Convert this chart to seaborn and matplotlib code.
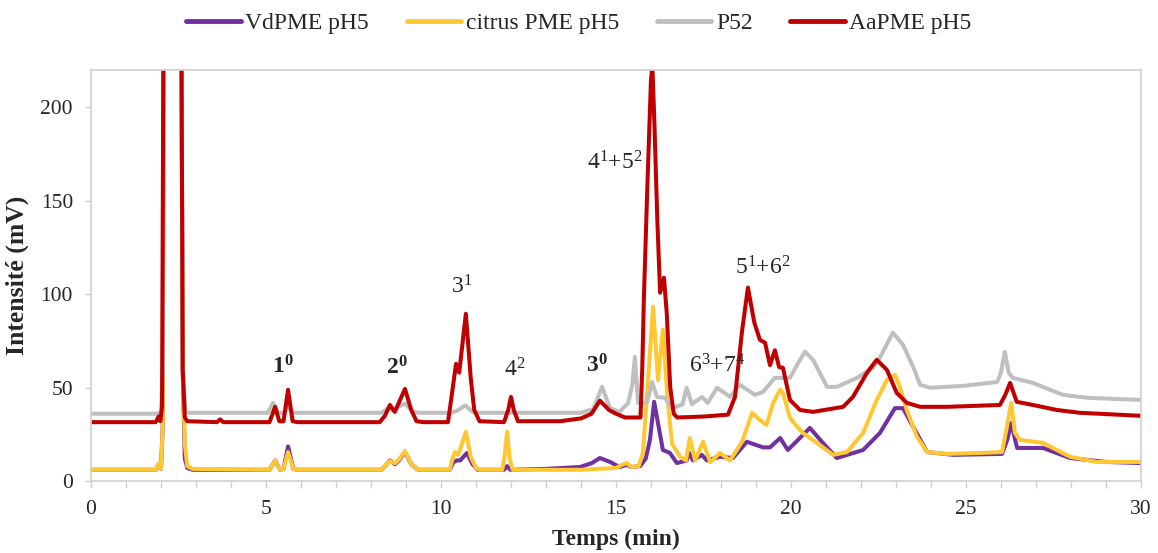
import pandas as pd
import seaborn as sns
import matplotlib.pyplot as plt

# temps (min) / intensité (mV)
vd_t = [0, 1.85, 1.93, 2.0, 2.05, 2.1, 2.55, 2.62, 2.68, 2.75, 2.9,
        5.1, 5.26, 5.4, 5.5, 5.63, 5.78, 5.9,
        8.3, 8.45, 8.55, 8.68, 8.8, 8.97, 9.15, 9.35,
        10.25, 10.35, 10.45, 10.55, 10.74, 10.9, 11.05,
        11.8, 11.89, 11.98,
        13.0, 13.97, 14.3, 14.54, 14.83, 15.1, 15.3, 15.45, 15.69, 15.85, 15.97,
        16.09, 16.2, 16.34, 16.54, 16.74, 17.02, 17.09, 17.2, 17.45, 17.6, 17.97,
        18.34, 18.74, 19.2, 19.4, 19.69, 19.91, 20.2, 20.54, 20.91, 21.31, 22.06,
        22.54, 22.97, 23.2, 23.49, 23.89, 24.63, 26.03, 26.18, 26.29, 26.46, 27.2,
        27.97, 29.0, 30]
vd_v = [6, 6, 8.5, 6.5, 30, 400, 400, 60, 12, 7, 6,
        6, 11, 6, 6.5, 18.5, 6.5, 6,
        6, 9, 11, 9, 11, 15.5, 9, 6,
        6, 10, 11, 11, 15, 9, 6,
        6, 8, 6,
        6.5, 7.5, 9.5, 12.3, 10.2, 7.5, 8.6, 7.5, 8, 12, 22,
        42.4, 31, 16.6, 15, 9.6, 11, 15, 11, 14, 11, 13,
        12.3, 21, 18, 18, 23, 16.6, 22, 28.4, 20.4, 12.3, 16.6,
        25.7, 39, 39, 29, 15.5, 14, 14.5, 22, 31, 17.7, 17.7,
        12.3, 10.2, 9.6]

citrus_t = [0, 1.85, 1.93, 2.0, 2.05, 2.1, 2.55, 2.62, 2.68, 2.75, 2.9,
            5.1, 5.26, 5.4, 5.5, 5.63, 5.78, 5.9,
            8.3, 8.45, 8.55, 8.68, 8.8, 8.97, 9.15, 9.35,
            10.25, 10.33, 10.4, 10.49, 10.6, 10.71, 10.85, 11.0, 11.1,
            11.75, 11.82, 11.89, 11.96, 12.05,
            13.0, 14.0, 14.5, 15.0, 15.15, 15.3, 15.45, 15.65, 15.77, 15.89, 16.06,
            16.2, 16.34, 16.46, 16.6, 16.83, 17.0, 17.11, 17.26, 17.49, 17.69, 17.97,
            18.26, 18.6, 18.89, 19.11, 19.3, 19.49, 19.69, 19.77, 19.97, 20.06, 20.34,
            20.74, 21.2, 21.6, 22.06, 22.45, 22.74, 22.97, 23.11, 23.31, 23.6, 23.89,
            24.45, 25.4, 26.03, 26.18, 26.29, 26.4, 26.54, 27.2, 27.97, 28.74, 30]
citrus_v = [6, 6, 9.5, 6.5, 30, 400, 400, 60, 20, 8, 6.5,
            6, 11, 6, 6.5, 15.5, 6.5, 6,
            6, 9, 10.7, 9.5, 11.5, 16, 9, 6,
            6, 12, 15.5, 14, 20, 26.3, 13, 7, 6,
            6, 14, 26.3, 12, 6,
            6, 6, 6.5, 7, 8.5, 9.6, 7.5, 8, 15, 47, 93.3,
            54, 81, 47, 20, 13, 11, 23, 11, 21, 10, 15,
            11, 21, 36.5, 32.7, 30, 41.8, 48.8, 47, 34, 31.6, 25.7,
            20.4, 14, 15.5, 25.7, 43.4, 54, 56.8, 50.4, 38, 23.6, 15.5,
            14.5, 15, 15.5, 30, 41.8, 25.7, 22, 20.4, 13, 10.2, 10.2]

p52_t = [0, 1.9, 2.0, 2.05, 2.1, 2.55, 2.62, 2.7, 2.8,
         5.05, 5.2, 5.35, 5.5, 5.63, 5.78,
         8.3, 8.5, 8.6, 8.97, 9.2, 9.4,
         10.3, 10.5, 10.69, 10.9, 11.1, 12.0,
         14.0, 14.17, 14.35, 14.6, 14.83, 15.1, 15.35, 15.47, 15.54, 15.63, 15.89,
         16.03, 16.17, 16.4, 16.6, 16.9, 17.02, 17.17, 17.26, 17.46, 17.62, 17.89,
         18.26, 18.54, 18.97, 19.2, 19.54, 19.97, 20.2, 20.4, 20.63, 21.03, 21.31,
         21.89, 22.34, 22.54, 22.91, 23.2, 23.49, 23.69, 23.97, 24.91, 25.89, 26.0,
         26.11, 26.22, 26.34, 26.91, 27.77, 28.5, 30]
p52_v = [36, 36, 37, 60, 400, 400, 60, 37, 36.5,
         36.5, 41.8, 36.5, 36.5, 40, 36.5,
         36.5, 39, 38, 41.5, 37, 36.5,
         36.5, 38, 40.5, 37, 36.5, 36.5,
         36.5, 37.5, 38.5, 50.4, 39, 37, 41.8, 52, 66.5, 41.8, 42,
         53, 45, 44.5, 39, 41, 49.9, 41, 42.4, 45, 41.8, 49.9,
         45, 51.5, 46.1, 47.7, 55.2, 55.2, 63, 69.2, 64.9, 50.4, 50.4,
         55.2, 60.6, 66, 79.4, 72.9, 61.1, 51.5, 49.9, 50.9, 53, 58,
         69.2, 58, 55.2, 52.5, 46.1, 44.5, 43.4]

aa_t = [0, 1.85, 1.93, 1.98, 2.03, 2.1, 2.55, 2.62, 2.68, 2.75, 3.6, 3.69, 3.78,
        5.1, 5.26, 5.38, 5.5, 5.63, 5.76, 5.9,
        8.25, 8.4, 8.54, 8.68, 8.97, 9.15, 9.3, 9.5,
        10.2, 10.3, 10.43, 10.52, 10.71, 10.85, 10.95, 11.1,
        11.8, 11.92, 12.0, 12.08, 12.2,
        13.4, 14.0, 14.3, 14.54, 14.8, 15.0, 15.26, 15.7, 15.75, 15.8, 15.9, 16.0,
        16.04, 16.1, 16.18, 16.26, 16.37, 16.45, 16.55, 16.65, 16.75, 17.5, 18.2,
        18.4, 18.6, 18.77, 18.95, 19.11, 19.26, 19.4, 19.54, 19.66, 19.77, 19.97,
        20.26, 20.63, 21.49, 21.77, 22.17, 22.45, 22.74, 23.02, 23.31, 23.69, 24.45,
        25.97, 26.12, 26.26, 26.45, 26.91, 27.6, 28.26, 30]
aa_v = [31.5, 31.5, 34.5, 32, 40, 400, 400, 60, 34, 32, 31.5, 33, 31.5,
        31.5, 39.7, 32, 32, 48.8, 32, 31.5,
        31.5, 35, 40.7, 37, 49.3, 38, 32, 31.5,
        31.5, 45, 62.7, 58, 89.5, 55, 38, 32,
        31.5, 38, 45, 38, 32,
        32, 33.5, 36, 43, 38, 36, 34, 34, 60, 100, 160, 215,
        222, 190, 140, 100.8, 108.8, 90, 50, 36, 34, 34.5, 35.5,
        45, 80, 103.5, 85, 75.6, 74, 62, 70, 61, 60.6, 43.4,
        38, 37, 39.7, 45, 57.9, 64.9, 59.5, 47.2, 41.8, 39.7, 39.7,
        40.7, 46, 52.5, 42.4, 40.7, 38, 36.5, 34.9]

series = ['VdPME pH5', 'citrus PME pH5', 'P52', 'AaPME pH5']
colors = ['#7030A0', '#FFC832', '#BFBFBF', '#C00000']

# peak labels: text, x, y
labels = [(r'$\mathbf{1^0}$', 5.49, 61),
          (r'$\mathbf{2^0}$', 8.74, 60.6),
          (r'$3^1$', 10.6, 104),
          (r'$4^2$', 12.11, 59.5),
          (r'$\mathbf{3^0}$', 14.46, 61.7),
          (r'$4^1$+$5^2$', 14.97, 170.5),
          (r'$6^3$+$7^4$', 17.89, 61.7),
          (r'$5^1$+$6^2$', 19.2, 114)]

df = pd.concat([
    pd.DataFrame({'t': vd_t, 'v': vd_v, 's': series[0]}),
    pd.DataFrame({'t': citrus_t, 'v': citrus_v, 's': series[1]}),
    pd.DataFrame({'t': p52_t, 'v': p52_v, 's': series[2]}),
    pd.DataFrame({'t': aa_t, 'v': aa_v, 's': series[3]}),
])

sns.set_style('white')
plt.rcParams['font.family'] = ['Liberation Serif', 'DejaVu Serif']
plt.rcParams['mathtext.fontset'] = 'custom'
plt.rcParams['mathtext.rm'] = 'Liberation Serif'
plt.rcParams['mathtext.it'] = 'Liberation Serif'
plt.rcParams['mathtext.bf'] = 'Liberation Serif:bold'

fig = plt.figure(figsize=(11.58, 5.53), dpi=100)
ax = fig.add_axes([0.0786, 0.1302, 0.9067, 0.7432])

sns.lineplot(data=df, x='t', y='v', hue='s', hue_order=series,
             palette=colors, linewidth=2.9, estimator=None, ax=ax)

ax.set_xlim(0, 30)
ax.set_ylim(0, 220)
ax.set_xticks(range(0, 31, 5))
ax.set_xticks(range(0, 31), minor=True)
ax.set_yticks(range(0, 201, 50))
for sp in ax.spines.values():
    sp.set_color('#D0D0D0')
    sp.set_linewidth(1.2)
ax.tick_params(axis='x', which='both', direction='out', length=5, width=1,
               color='#D0D0D0', bottom=True, labelsize=15.5, pad=9)
ax.tick_params(axis='y', which='major', direction='out', length=4, width=1,
               color='#D0D0D0', left=True, labelsize=15.5, pad=9)

ax.set_xlabel('Temps (min)', fontsize=17, fontweight='bold', labelpad=7)
ax.set_ylabel('Intensité (mV)', fontsize=18.5, fontweight='bold', labelpad=8)

for txt, x, y in labels:
    ax.text(x, y, txt, fontsize=17, ha='center', va='center')

ax.legend_.remove()
handles, _ = ax.get_legend_handles_labels()
fig.legend(handles, series, loc='center', bbox_to_anchor=(0.5, 0.958), ncol=4,
           frameon=False, fontsize=17, handlelength=2.3, handletextpad=0.2,
           columnspacing=1.6)
for h in fig.legends[0].get_lines():
    h.set_linewidth(3.5)

fig.savefig('out.png', dpi=100)
